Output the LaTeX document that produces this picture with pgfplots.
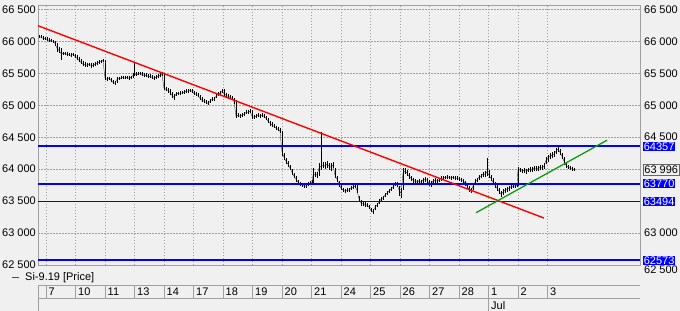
\documentclass[border=0pt]{standalone}
\usepackage{pgfplots}
\pgfplotsset{compat=1.18}
\usepackage{pgfplotstable}
\usepackage{fontspec}
\setmainfont{Liberation Sans}
\definecolor{bg}{HTML}{F0F0F0}
\definecolor{gridc}{HTML}{A0A0A0}
\definecolor{framec}{HTML}{A0A0A0}
\definecolor{lvl}{RGB}{0,0,255}
\definecolor{trendred}{RGB}{255,0,0}
\definecolor{trendgreen}{HTML}{109A10}
\newcommand\cf{\fontsize{11bp}{13bp}\selectfont}
\pgfplotstableread{
x c h l
39 66078 66094 66047
41 66063 66094 66047
43 66047 66078 66016
45 66047 66063 66016
47 66031 66063 66000
49 66016 66047 65984
51 66016 66031 65984
53 66000 66016 65969
55 65969 66000 65922
57 65891 65969 65828
59 65859 65906 65813
61 65813 65891 65703
63 65813 65828 65781
65 65813 65828 65781
67 65797 65828 65766
69 65797 65813 65766
71 65781 65813 65750
73 65797 65813 65766
75 65766 65797 65734
77 65734 65781 65703
79 65703 65750 65672
81 65672 65719 65641
83 65641 65688 65609
85 65641 65672 65594
87 65625 65656 65594
89 65641 65656 65609
91 65625 65656 65578
93 65625 65656 65594
95 65641 65672 65609
97 65656 65688 65625
99 65672 65703 65641
101 65688 65703 65656
103 65703 65719 65672
105 65422 65703 65391
107 65406 65438 65375
109 65422 65438 65391
111 65391 65422 65359
113 65359 65391 65328
115 65344 65375 65313
117 65406 65438 65344
119 65422 65438 65391
121 65422 65453 65406
123 65438 65453 65406
125 65422 65453 65406
127 65438 65453 65406
129 65422 65453 65391
131 65438 65453 65406
133 65469 65500 65422
134 65484 65672 65453
136 65484 65516 65453
138 65484 65516 65469
140 65500 65516 65469
142 65484 65516 65453
144 65469 65500 65438
146 65469 65500 65438
148 65453 65484 65422
150 65453 65484 65422
152 65438 65469 65406
154 65422 65453 65391
156 65438 65469 65406
158 65453 65484 65422
160 65469 65500 65438
162 65484 65516 65453
164 65266 65500 65234
166 65250 65281 65219
168 65234 65266 65188
170 65203 65250 65156
172 65156 65203 65109
174 65125 65172 65078
176 65172 65203 65141
178 65188 65203 65156
180 65188 65219 65156
182 65188 65219 65172
184 65203 65234 65172
186 65219 65250 65188
188 65219 65250 65188
190 65234 65250 65203
192 65219 65250 65188
194 65188 65219 65156
196 65172 65203 65141
198 65156 65188 65125
200 65109 65156 65078
202 65078 65125 65047
204 65063 65094 65031
206 65047 65078 65016
208 65031 65063 65000
210 65063 65094 65031
212 65094 65125 65063
214 65094 65125 65063
216 65141 65172 65109
218 65172 65203 65141
220 65188 65219 65156
222 65219 65250 65188
224 65188 65250 65141
226 65156 65188 65125
228 65141 65172 65109
230 65125 65156 65094
232 65109 65141 65078
234 65063 65109 65016
236 64828 65078 64797
238 64844 64875 64813
240 64828 64859 64797
242 64844 64875 64813
244 64859 64891 64828
246 64891 64922 64859
248 64891 64922 64859
250 64906 64938 64875
252 64828 64922 64781
254 64813 64844 64781
256 64828 64859 64797
258 64844 64875 64813
260 64828 64859 64797
262 64844 64875 64813
264 64828 64859 64797
266 64797 64828 64766
268 64750 64797 64719
270 64719 64750 64672
272 64688 64734 64656
274 64672 64703 64641
276 64641 64672 64609
278 64625 64656 64594
280 64594 64641 64563
282 64266 64594 64203
284 64188 64250 64141
286 64125 64172 64078
288 64078 64125 64031
290 64016 64063 63984
292 63953 64000 63906
294 63891 63938 63859
296 63844 63891 63797
298 63797 63828 63750
300 63766 63797 63734
302 63750 63781 63719
304 63734 63766 63703
306 63734 63766 63703
308 63766 63797 63734
310 63781 63813 63750
312 63797 63828 63766
313 63906 64016 63781
315 63922 63953 63875
317 63906 63953 63859
319 64016 64094 63891
321 64047 64578 63984
323 64063 64109 64016
325 64047 64109 64000
327 64078 64125 64016
329 64047 64094 63984
331 64031 64094 63969
333 64063 64109 64016
335 63906 64016 63859
337 63844 63891 63797
339 63766 63813 63719
341 63703 63750 63672
343 63672 63703 63641
345 63656 63688 63625
347 63672 63703 63641
349 63672 63703 63641
351 63703 63734 63672
353 63719 63750 63688
355 63734 63766 63703
357 63672 63781 63625
359 63531 63578 63484
361 63469 63516 63422
363 63469 63500 63422
365 63438 63484 63406
367 63438 63469 63406
369 63406 63438 63375
371 63359 63391 63328
373 63328 63375 63297
375 63406 63438 63359
377 63438 63469 63406
379 63484 63531 63453
381 63531 63563 63500
383 63547 63578 63516
385 63594 63625 63563
387 63625 63656 63594
389 63656 63688 63625
391 63688 63719 63656
393 63719 63750 63688
395 63766 63797 63734
397 63766 63797 63719
399 63672 63734 63578
401 63625 63703 63547
403 63938 64016 63672
405 63969 64016 63922
407 63938 63984 63891
409 63891 63938 63844
411 63859 63891 63813
413 63828 63859 63781
415 63813 63844 63781
417 63797 63828 63766
419 63813 63844 63781
421 63797 63828 63766
423 63828 63859 63781
425 63844 63875 63797
427 63828 63859 63781
429 63781 63828 63734
431 63766 63813 63719
433 63813 63844 63766
435 63828 63859 63781
437 63813 63844 63766
439 63828 63859 63797
441 63859 63891 63813
443 63859 63891 63828
445 63875 63891 63844
447 63875 63906 63844
449 63875 63891 63844
451 63859 63891 63828
453 63875 63891 63844
455 63859 63891 63828
457 63859 63891 63828
459 63844 63875 63813
461 63828 63859 63797
463 63813 63844 63781
465 63781 63813 63734
467 63734 63781 63688
469 63688 63734 63641
471 63656 63703 63625
473 63734 63781 63672
475 63797 63844 63750
477 63828 63859 63797
479 63875 63906 63828
481 63891 63922 63859
483 63922 63953 63875
485 63922 63969 63875
487 63953 64172 63891
489 63906 63984 63859
491 63859 63906 63813
493 63797 63859 63750
495 63750 63797 63703
497 63703 63750 63656
499 63656 63703 63609
501 63609 63656 63563
503 63641 63688 63594
505 63672 63703 63625
507 63688 63719 63641
509 63703 63734 63656
511 63719 63750 63688
513 63734 63766 63703
515 63734 63766 63703
517 63750 63781 63719
518 64000 64031 63734
520 63984 64016 63953
522 63969 64000 63938
524 63984 64016 63938
526 63969 64000 63922
528 63984 64016 63953
530 64000 64031 63953
532 63984 64031 63953
534 64016 64047 63969
536 64000 64047 63969
538 64016 64047 63969
540 64031 64063 63984
542 64016 64063 63984
544 64047 64094 64000
546 64141 64188 64078
548 64172 64219 64109
550 64203 64250 64156
552 64219 64266 64172
554 64234 64281 64188
556 64281 64328 64234
558 64313 64344 64266
560 64266 64313 64219
562 64203 64250 64156
564 64125 64188 64063
566 64063 64109 64016
568 64031 64063 64000
570 64016 64047 63984
572 64000 64031 63969
574 63996 64016 63969
}\pricedata
\begin{document}
\begin{tikzpicture}
\fill[bg] (0,0) rectangle (680bp,311bp);
\useasboundingbox (0,0) rectangle (680bp,311bp);
\begin{axis}[
  at={(38bp,46bp)}, anchor=south west,
  scale only axis, width=602bp, height=260bp,
  xmin=38, xmax=640, ymin=62500, ymax=66570,
  clip=false,
  axis background/.style={fill=bg},
  axis line style={draw=framec, line width=0.8bp},
  major tick length=0pt,
  xtick={46,75.5,105,134.5,164,193.5,223,252.5,282,311.5,341,370.5,400,429.5,459,488.5,518,547.5},
  xticklabels={7,10,11,13,14,17,18,19,20,21,24,25,26,27,28,1,2,3},
  ytick={62500,63000,63500,64000,64500,65000,65500,66000,66500},
  yticklabels={62 500,63 000,63 500,64 000,64 500,65 000,65 500,66 000,66 500},
  grid=major,
  major grid style={draw=gridc, dash pattern=on 1.5bp off 1.5bp, line width=0.6bp},
  tick label style={font=\cf},
  xticklabel style={anchor=west, yshift=-26.5bp, inner xsep=2.5bp},
  yticklabel style={inner xsep=2bp},
]
% price bars
\addplot[black!80, line width=0.35bp, mark=none] table[x=x, y=c] {\pricedata};
\addplot[draw=none, mark=none,
  error bars/.cd, y dir=both, y explicit, error mark=none,
  error bar style={draw=black, line width=0.8bp}]
  table[x=x, y=c, y error plus expr=\thisrow{h}-\thisrow{c}, y error minus expr=\thisrow{c}-\thisrow{l}] {\pricedata};
% horizontal levels
\addplot[draw=lvl, line width=1.8bp, mark=none] coordinates {(38,64357) (640,64357)};
\addplot[draw=lvl, line width=1.8bp, mark=none] coordinates {(38,63770) (640,63770)};
\addplot[draw=lvl, line width=1.8bp, mark=none] coordinates {(38,63494) (640,63494)};
\addplot[draw=lvl, line width=1.8bp, mark=none] coordinates {(38,62573) (640,62573)};
% trend lines
\addplot[draw=trendred, line width=1.4bp, mark=none] coordinates {(38,66246) (544,63235)};
\addplot[draw=trendgreen, line width=1.3bp, mark=none] coordinates {(476,63318) (607,64453)};
% right labels
\node[anchor=west, font=\cf, inner sep=0pt, xshift=4bp] at (axis cs:640,66500) {66 500};
\node[anchor=west, font=\cf, inner sep=0pt, xshift=4bp] at (axis cs:640,66000) {66 000};
\node[anchor=west, font=\cf, inner sep=0pt, xshift=4bp] at (axis cs:640,65500) {65 500};
\node[anchor=west, font=\cf, inner sep=0pt, xshift=4bp] at (axis cs:640,65000) {65 000};
\node[anchor=west, font=\cf, inner sep=0pt, xshift=4bp, yshift=0.5bp] at (axis cs:640,64500) {64 500};
\node[anchor=west, font=\cf, inner sep=0pt, xshift=4bp] at (axis cs:640,63000) {63 000};
\node[anchor=west, font=\cf, inner sep=0pt, xshift=4bp, yshift=-4.5bp] at (axis cs:640,62500) {62 500};
\node[anchor=west, font=\cf, fill=bg, draw=black!60, inner xsep=1.2bp, inner ysep=1.6bp, xshift=3bp] at (axis cs:640,63996) {63 996};
\node[anchor=west, font=\cf, fill=lvl, text=white, inner xsep=0.6bp, inner ysep=0.7bp, xshift=3bp] at (axis cs:640,64357) {64357};
\node[anchor=west, font=\cf, fill=lvl, text=white, inner xsep=0.6bp, inner ysep=0.7bp, xshift=3bp] at (axis cs:640,63770) {63770};
\node[anchor=west, font=\cf, fill=lvl, text=white, inner xsep=0.6bp, inner ysep=0.7bp, xshift=3bp] at (axis cs:640,63494) {63494};
\node[anchor=west, font=\cf, fill=lvl, text=white, inner xsep=0.6bp, inner ysep=0.7bp, xshift=3bp] at (axis cs:640,62573) {62573};
\node[anchor=west, font=\cf, inner sep=0pt, yshift=-40.5bp] at (axis cs:491,62500) {Jul};
\end{axis}
% legend
\draw[black!70, line width=0.8bp] (12bp,33.5bp) -- (19bp,33.5bp);
\node[anchor=west, font=\cf, inner sep=0pt] at (25bp,33.5bp) {Si-9.19 [Price]};
% date row frame
\draw[framec, line width=0.8bp] (38bp,26bp) -- (640bp,26bp);
\draw[framec, line width=0.8bp] (38bp,13bp) -- (640bp,13bp);
\draw[framec, line width=0.8bp] (38bp,0bp) -- (38bp,26bp);
\draw[framec, line width=0.8bp] (488.5bp,0bp) -- (488.5bp,26bp);
\foreach \t in {46,75.5,105,134.5,164,193.5,223,252.5,282,311.5,341,370.5,400,429.5,459,518,547.5}{
  \draw[framec, line width=0.8bp] (\t bp,13bp) -- (\t bp,26bp);
}
\end{tikzpicture}
\end{document}
